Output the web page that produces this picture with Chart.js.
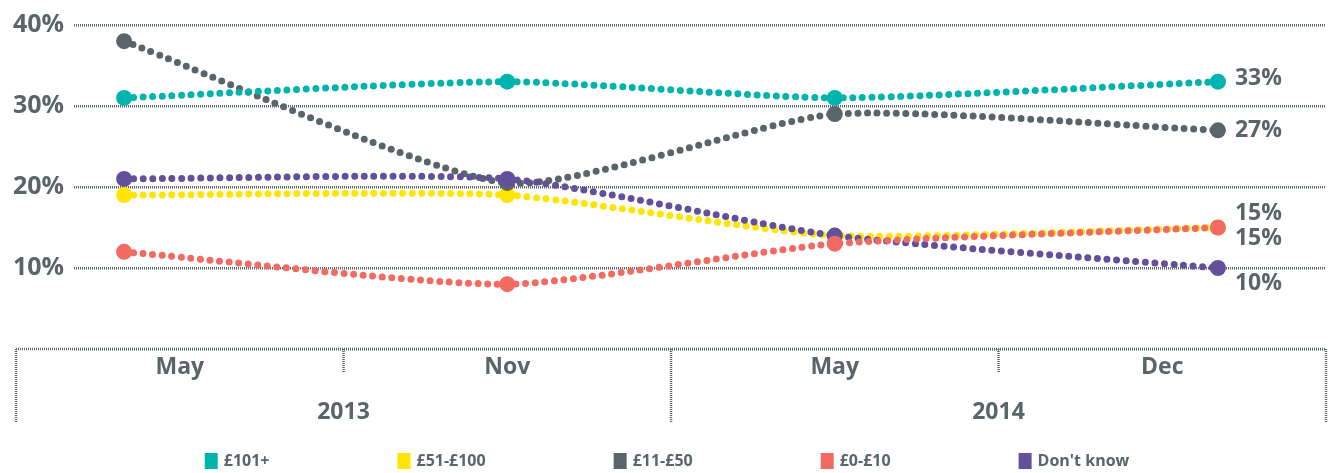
<!DOCTYPE html>
<html>
<head>
<meta charset="utf-8">
<script src="https://cdn.jsdelivr.net/npm/chart.js@4.4.0/dist/chart.umd.min.js"></script>
<style>
  html, body { margin: 0; padding: 0; background: #fff; }
  #wrap { width: 1334px; height: 473px; }
</style>
</head>
<body>
<div id="wrap"><canvas id="chart" width="1334" height="473"></canvas></div>
<script>
// ── data ────────────────────────────────────────────────
const periods = ['May 2013', 'Nov 2013', 'May 2014', 'Dec 2014'];
const xPos = [0.33, 1.5, 2.5, 3.67];          // where each survey sits inside the month cells
const months = ['May', 'Nov', 'May', 'Dec'];
const years = ['2013', '2014'];
const yTicks = [0, 10, 20, 30, 40];

const over100   = [31, 33, 31, 33];
const from51    = [19, 19, 14, 15];
const from11    = [38, 20.5, 29, 27];
const upTo10    = [12, 8, 13, 15];
const dontKnow  = [21, 21, 14, 10];

// ── style ───────────────────────────────────────────────
const INK = '#5a6569';
const FONT = "'Open Sans', 'DejaVu Sans', sans-serif";

const series = [
    { label: '£101+',      data: over100,  color: '#00b4ae', order: 0, dy: -3 },
    { label: '£51-£100',   data: from51,   color: '#ffe500', order: 4, dy: -14 },
    { label: '£11-£50',    data: from11,   color: '#5a6569', order: 3, dy: 0 },
    { label: '£0-£10',     data: upTo10,   color: '#f26b62', order: 1, dy: 11 },
    { label: "Don't know", data: dontKnow, color: '#62519a', order: 2, dy: 15 },
];

function dotted(ctx, x1, y1, x2, y2) {
    ctx.beginPath(); ctx.moveTo(x1, y1); ctx.lineTo(x2, y2); ctx.stroke();
}

// month / year bracket under the plot
const bracketAxis = {
    id: 'bracketAxis',
    afterDraw(chart) {
        const { ctx, scales: { x, y } } = chart;
        const y0 = y.getPixelForValue(0);
        const px = v => x.getPixelForValue(v);
        ctx.save();
        ctx.strokeStyle = INK; ctx.lineWidth = 2.5; ctx.setLineDash([1, 1]);
        dotted(ctx, px(0), y0, px(4), y0);
        for (let i = 0; i <= 4; i++) {
            dotted(ctx, px(i), y0, px(i), y0 + (i % 2 === 0 ? 74 : 24));
        }
        ctx.fillStyle = INK;
        ctx.textAlign = 'center'; ctx.textBaseline = 'middle';
        ctx.font = `bold 23px ${FONT}`;
        months.forEach((m, i) => ctx.fillText(m, px(i + 0.5), y0 + 18));
        years.forEach((yr, j) => ctx.fillText(yr, px(2 * j + 1), y0 + 63));
        ctx.restore();
    }
};

// value labels next to the last point
const endLabels = {
    id: 'endLabels',
    afterDatasetsDraw(chart) {
        const { ctx } = chart;
        ctx.save();
        ctx.fillStyle = INK; ctx.font = `bold 23px ${FONT}`;
        ctx.textAlign = 'left'; ctx.textBaseline = 'middle';
        chart.data.datasets.forEach((ds, i) => {
            const pts = chart.getDatasetMeta(i).data;
            const last = pts[pts.length - 1];
            ctx.fillText(ds.data[ds.data.length - 1].y + '%', last.x + 17, last.y + series[i].dy);
        });
        ctx.restore();
    }
};

// flat legend row at the bottom
const bottomLegend = {
    id: 'bottomLegend',
    afterDraw(chart) {
        const { ctx } = chart;
        const gap = 128, box = 13, boxH = 16, textGap = 6;
        ctx.save();
        ctx.font = `bold 16px ${FONT}`;
        const widths = series.map(s => box + textGap + ctx.measureText(s.label).width);
        const total = widths.reduce((a, b) => a + b, 0) + gap * (series.length - 1);
        let x = (chart.width - total) / 2;
        const yc = 461;
        ctx.textBaseline = 'middle'; ctx.textAlign = 'left';
        series.forEach((s, i) => {
            ctx.fillStyle = s.color;
            ctx.fillRect(x, yc - boxH / 2, box, boxH);
            ctx.fillStyle = INK;
            ctx.fillText(s.label, x + box + textGap, yc);
            x += widths[i] + gap;
        });
        ctx.restore();
    }
};

new Chart(document.getElementById('chart'), {
    type: 'line',
    data: {
        datasets: series.map(s => ({
            label: s.label,
            data: xPos.map((xv, i) => ({ x: xv, y: s.data[i], period: periods[i] })),
            borderColor: s.color, backgroundColor: s.color,
            borderWidth: 7, borderDash: [0, 9.6], borderCapStyle: 'round',
            tension: 0.2,
            pointRadius: 8, pointBorderWidth: 0, pointBackgroundColor: s.color,
            order: s.order, clip: false,
        }))
    },
    options: {
        responsive: false, animation: false,
        layout: { padding: { left: 0, right: 5, top: 23, bottom: 124 } },
        plugins: { legend: { display: false }, tooltip: { enabled: false } },
        scales: {
            x: { type: 'linear', min: 0.177, max: 4, display: false },
            y: {
                min: 0, max: 40,
                afterFit: s => { s.width = 74; },
                afterBuildTicks: s => { s.ticks = yTicks.map(v => ({ value: v })); },
                grid: { color: INK, lineWidth: 2.5, drawTicks: false },
                border: { display: false, dash: [1, 1] },
                ticks: {
                    padding: 10, color: INK, font: { family: FONT, size: 25, weight: 'bold' },
                    callback: v => v === 0 ? '' : v + '%'
                }
            }
        }
    },
    plugins: [bracketAxis, endLabels, bottomLegend]
});
</script>
</body>
</html>
